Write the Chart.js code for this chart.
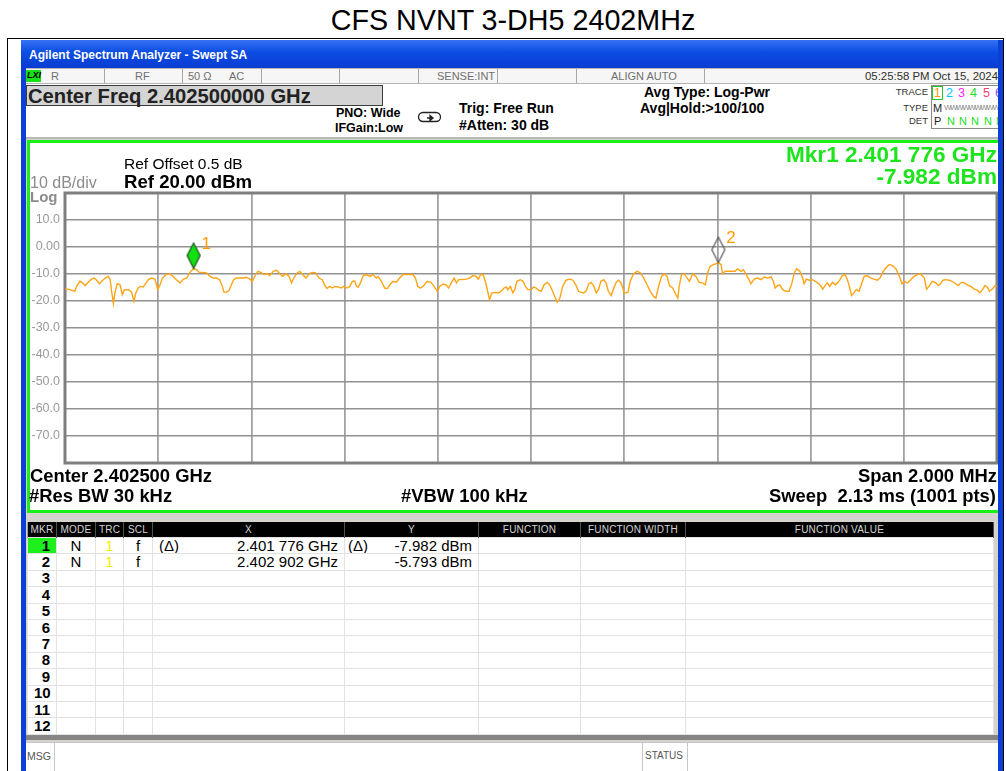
<!DOCTYPE html>
<html>
<head>
<meta charset="utf-8">
<title>CFS NVNT 3-DH5 2402MHz</title>
<script src="https://cdn.jsdelivr.net/npm/chart.js@4.4.1/dist/chart.umd.min.js"></script>
<style>
  html, body { margin: 0; padding: 0; }
  body { width: 1006px; height: 771px; position: relative; overflow: hidden; background: #fff;
         font-family: "Liberation Sans", Arial, sans-serif; color: #000; }
  .t { position: absolute; white-space: nowrap; line-height: 1; }
  .b { font-weight: bold; }
  .box { position: absolute; box-sizing: border-box; }
  .sep { position: absolute; top: 69px; width: 1px; height: 14px; background: #a8a8a8; }
  .st { position: absolute; top: 71px; font-size: 11px; color: #707070; line-height: 1; white-space: nowrap; }
  .hd { font-size: 14px; font-weight: bold; }
  .pn { font-size: 18.4px; font-weight: bold; }
  #mkt { position: absolute; left: 27px; top: 522px; width: 966px; border-collapse: collapse; table-layout: fixed; }
  #mkt th { background: #000; color: #d4d4d4; font-weight: normal; font-size: 10px; height: 15px; padding: 0;
            border-left: 1px solid #a0a0a0; border-right: 1px solid #505050; line-height: 15px; letter-spacing: 0.2px; }
  #mkt tr.r { height: 16.4px; }
  #mkt td { background: #fff; padding: 0 6px; border: 1px solid #e2e2e2; font-size: 15px; line-height: 14px;
            white-space: nowrap; overflow: hidden; }
  #mkt td.n { text-align: right; font-weight: bold; padding-right: 6px; }
  #mkt td.c { text-align: center; padding: 0; }
  #mkt td.v { text-align: right; }
  #mkt td.v span { float: left; }
</style>
</head>
<body>

<div class="t" style="left:0;width:1026px;text-align:center;top:6px;font-size:28.7px;">CFS NVNT 3-DH5 2402MHz</div>
<div class="box" style="left:7px;top:38px;width:997px;height:1px;background:#000"></div>
<div class="box" style="left:7px;top:38px;width:1px;height:733px;background:#000"></div>

<!-- analyzer window frame -->
<div class="box" style="left:21px;top:40px;width:982px;height:731px;background:#0c3fd4"></div>
<div class="box" style="left:21px;top:40px;width:982px;height:28px;background:linear-gradient(#3572f4,#0b4ce2 45%,#0a3dd2)"></div>
<div class="t b" style="left:29px;top:49px;font-size:12px;color:#fff;">Agilent Spectrum Analyzer - Swept SA</div>
<div class="box" style="left:26px;top:68px;width:972px;height:703px;background:#d6d3ce"></div>

<!-- status strip -->
<div class="box" style="left:26px;top:68px;width:972px;height:16px;background:#f6f6f6;border-top:1px solid #b4b4b4;border-bottom:1px solid #b4b4b4"></div>
<div class="sep" style="left:104px"></div><div class="sep" style="left:182px"></div>
<div class="sep" style="left:261px"></div><div class="sep" style="left:339px"></div>
<div class="sep" style="left:418px"></div><div class="sep" style="left:497px"></div>
<div class="sep" style="left:576px"></div><div class="sep" style="left:704px"></div>
<div class="box" style="left:26px;top:70px;width:15px;height:12px;background:#18e018"></div>
<div class="t b" style="left:27px;top:71px;font-size:9px;font-style:italic;">LXI</div>
<div class="st" style="left:51px">R</div>
<div class="st" style="left:135px">RF</div>
<div class="st" style="left:188px">50 Ω</div>
<div class="st" style="left:229px">AC</div>
<div class="st" style="left:437px">SENSE:INT</div>
<div class="st" style="left:611px">ALIGN AUTO</div>
<div class="st" style="left:865px;color:#303030;font-size:11.4px">05:25:58 PM Oct 15, 2024</div>

<!-- settings area -->
<div class="box" style="left:26px;top:84px;width:972px;height:55px;background:#fff;border-bottom:2px solid #b8b8b8"></div>
<div class="box" style="left:26px;top:85px;width:357px;height:21px;background:#d4d4d4;border:1px solid #3c3c3c"></div>
<div class="t b" style="left:28px;top:86px;font-size:20.2px;color:#222">Center Freq 2.402500000 GHz</div>
<div class="t b" style="left:336px;top:107px;font-size:12.5px">PNO: Wide</div>
<div class="t b" style="left:335px;top:122px;font-size:12.5px">IFGain:Low</div>
<svg class="box" style="left:417px;top:110px" width="26" height="16" viewBox="0 0 26 16">
  <rect x="1.5" y="2.5" width="22" height="9" rx="4.5" fill="none" stroke="#222" stroke-width="1.3"/>
  <path d="M10 8 L15 8 M13 5.5 L16 8 L13 10.5 Z" stroke="#222" stroke-width="1.3" fill="#222"/>
</svg>
<div class="t hd" style="left:459px;top:101px">Trig: Free Run</div>
<div class="t hd" style="left:459px;top:118px">#Atten: 30 dB</div>
<div class="t hd" style="left:644px;top:85px">Avg Type: Log-Pwr</div>
<div class="t hd" style="left:640px;top:101px">Avg|Hold:&gt;100/100</div>
<div class="t" style="left:880px;width:48px;text-align:right;top:87px;font-size:9.5px;color:#333">TRACE</div>
<div class="t" style="left:880px;width:48px;text-align:right;top:103px;font-size:9.5px;color:#333">TYPE</div>
<div class="t" style="left:880px;width:48px;text-align:right;top:116px;font-size:9.5px;color:#333">DET</div>
<div class="box" style="left:931px;top:85px;width:72px;height:44px;border:1px solid #8a8a8a;background:#fff"></div>
<div class="box" style="left:932px;top:86px;width:11px;height:14px;border:1px solid #22cc22"></div>
<div class="t" style="left:934px;top:87px;font-size:12.5px;color:#ff9a00">1</div>
<div class="t" style="left:946px;top:87px;font-size:12.5px;color:#00c4ff">2</div>
<div class="t" style="left:958px;top:87px;font-size:12.5px;color:#ff22ff">3</div>
<div class="t" style="left:970px;top:87px;font-size:12.5px;color:#22dd22">4</div>
<div class="t" style="left:983px;top:87px;font-size:12.5px;color:#ff4070">5</div>
<div class="t" style="left:995px;top:87px;font-size:12.5px;color:#9050ff">6</div>
<div class="t" style="left:933px;top:103px;font-size:11px;color:#222">M</div>
<div class="t" style="left:944px;top:104px;font-size:8px;color:#888;letter-spacing:-1.5px">WWWWWWWWWWWWWW</div>
<div class="t" style="left:934px;top:116px;font-size:11px;color:#222">P</div>
<div class="t" style="left:947px;top:116px;font-size:11px;color:#22dd22">N</div>
<div class="t" style="left:959px;top:116px;font-size:11px;color:#22dd22">N</div>
<div class="t" style="left:971px;top:116px;font-size:11px;color:#22dd22">N</div>
<div class="t" style="left:984px;top:116px;font-size:11px;color:#22dd22">N</div>
<div class="t" style="left:996px;top:116px;font-size:11px;color:#22dd22">N</div>

<!-- trace panel -->
<div class="box" style="left:27px;top:140px;width:980px;height:373px;background:#fff;border:3px solid #18f018"></div>
<canvas id="sa" class="box" style="left:30px;top:143px" width="968" height="367"></canvas>
<div class="t" style="left:124px;top:156px;font-size:15.5px">Ref Offset 0.5 dB</div>
<div class="t b" style="left:124px;top:173px;font-size:18.6px">Ref 20.00 dBm</div>
<div class="t" style="left:30px;top:175px;font-size:16px;color:#8c8c8c">10 dB/div</div>
<div class="t b" style="left:30px;top:189px;font-size:15px;color:#8c8c8c">Log</div>
<div id="mkrFreq" class="t b" style="right:9px;top:144px;font-size:22.6px;color:#1ee41e"></div>
<div id="mkrLevel" class="t b" style="right:9px;top:166px;font-size:22.6px;color:#1ee41e"></div>
<div class="t pn" style="left:30px;top:467px">Center 2.402500 GHz</div>
<div class="t pn" style="left:29px;top:487px">#Res BW 30 kHz</div>
<div class="t pn" style="left:401px;top:487px">#VBW 100 kHz</div>
<div class="t pn" style="right:9px;top:467px">Span 2.000 MHz</div>
<div class="t pn" style="left:769px;top:487px">Sweep&nbsp; 2.13 ms (1001 pts)</div>

<!-- marker table -->
<table id="mkt">
  <colgroup>
    <col style="width:29px"><col style="width:39px"><col style="width:28px"><col style="width:29px">
    <col style="width:192px"><col style="width:134px"><col style="width:102px"><col style="width:105px"><col style="width:308px">
  </colgroup>
  <thead><tr><th>MKR</th><th>MODE</th><th>TRC</th><th>SCL</th><th>X</th><th>Y</th><th>FUNCTION</th><th>FUNCTION WIDTH</th><th>FUNCTION VALUE</th></tr></thead>
  <tbody></tbody>
</table>
<div class="box" style="left:26px;top:735px;width:972px;height:5px;background:#858585"></div>
<div class="box" style="left:26px;top:742px;width:972px;height:29px;background:#fff;border-top:1px solid #c8c8c8"></div>
<div class="box" style="left:54px;top:742px;width:1px;height:29px;background:#c8c8c8"></div>
<div class="t" style="left:27px;top:751px;font-size:10.5px;color:#555">MSG</div>
<div class="box" style="left:642px;top:742px;width:1px;height:29px;background:#c8c8c8"></div>
<div class="box" style="left:687px;top:742px;width:1px;height:29px;background:#c8c8c8"></div>
<div class="t" style="left:645px;top:751px;font-size:10px;color:#555">STATUS</div>

<!-- right window edge over clipped content -->
<div class="box" style="left:998px;top:40px;width:5px;height:731px;background:#0c3fd4;z-index:5"></div>
<div class="box" style="left:1003px;top:38px;width:1px;height:733px;background:#000;z-index:5"></div>
<div class="box" style="left:1004px;top:38px;width:2px;height:733px;background:#fff;z-index:5"></div>

<script>
// sweep setup
const centerGHz = 2.4025;
const spanMHz = 2.0;

// amplitude axis, 10 dB/div from the 20 dBm reference
const levelTicks = [20, 10, 0, -10, -20, -30, -40, -50, -60, -70, -80];
const levelTickLabels = ['', '10.0', '0.00', '-10.0', '-20.0', '-30.0', '-40.0', '-50.0', '-60.0', '-70.0', ''];

// trace 1: offset from start frequency (kHz) and level (dBm)
const traceOffsetKHz = [
  0, 7, 14, 21, 25, 32, 38, 43, 50, 57, 63, 68, 74, 79, 86, 93, 97, 100, 104, 107,
  112, 118, 123, 127, 132, 138, 143, 148, 152, 157, 162, 168, 174, 179, 186, 193, 199, 204, 209, 217,
  225, 232, 239, 247, 254, 261, 268, 276, 282, 288, 295, 304, 311, 318, 325, 332, 337, 341, 347, 352,
  357, 362, 368, 375, 382, 389, 397, 402, 407, 414, 420, 427, 434, 439, 447, 454, 461, 467, 474, 481,
  486, 491, 498, 504, 510, 517, 524, 531, 538, 545, 552, 557, 562, 568, 574, 579, 586, 593, 598, 605,
  611, 617, 622, 625, 629, 634, 640, 647, 654, 661, 668, 672, 679, 686, 692, 697, 704, 711, 718, 725,
  736, 747, 752, 757, 763, 770, 777, 785, 792, 799, 804, 811, 818, 823, 829, 835, 840, 845, 852, 861,
  868, 875, 882, 887, 892, 897, 902, 907, 911, 916, 923, 930, 936, 942, 947, 950, 956, 961, 965, 970,
  977, 983, 988, 993, 1000, 1006, 1011, 1016, 1022, 1028, 1035, 1040, 1045, 1050, 1056, 1062, 1068, 1075, 1083, 1090,
  1097, 1102, 1108, 1113, 1118, 1124, 1129, 1135, 1140, 1145, 1150, 1156, 1161, 1166, 1172, 1177, 1183, 1188, 1193, 1197,
  1200, 1208, 1213, 1220, 1228, 1235, 1242, 1249, 1256, 1263, 1268, 1273, 1280, 1286, 1292, 1297, 1304, 1311, 1315, 1318,
  1323, 1329, 1335, 1340, 1347, 1354, 1361, 1368, 1374, 1379, 1384, 1391, 1397, 1402, 1408, 1411, 1417, 1424, 1431, 1438,
  1443, 1451, 1456, 1461, 1467, 1472, 1479, 1486, 1493, 1501, 1508, 1515, 1520, 1524, 1529, 1534, 1540, 1547, 1554, 1560,
  1565, 1570, 1577, 1583, 1586, 1591, 1597, 1604, 1610, 1615, 1620, 1626, 1631, 1636, 1641, 1647, 1653, 1658, 1663, 1668,
  1674, 1679, 1684, 1688, 1693, 1698, 1704, 1710, 1715, 1722, 1729, 1736, 1743, 1749, 1754, 1761, 1769, 1776, 1783, 1790,
  1796, 1801, 1808, 1815, 1822, 1829, 1836, 1844, 1849, 1854, 1861, 1869, 1874, 1879, 1884, 1891, 1897, 1904, 1911, 1917,
  1922, 1929, 1936, 1944, 1951, 1958, 1963, 1969, 1974, 1979, 1984, 1990, 1996, 2000
];
const traceLevelDBm = [
  -15.6, -15.6, -16.0, -16.4, -14.6, -12.7, -13.3, -14.3, -13.1, -11.9, -11.5, -12.3, -13.6, -12.7, -11.5, -10.9, -12.1, -16.4, -21.0, -17.0,
  -13.6, -14.0, -17.7, -16.0, -15.8, -16.0, -16.8, -20.1, -17.0, -15.2, -14.6, -14.8, -13.3, -12.1, -11.5, -11.9, -15.8, -14.0, -11.5, -10.2,
  -9.9, -10.9, -12.1, -13.3, -11.9, -11.5, -9.4, -7.98, -8.4, -9.4, -9.4, -9.6, -10.9, -11.5, -11.5, -12.1, -14.3, -16.7, -16.7, -16.0,
  -14.0, -12.1, -11.5, -11.5, -11.5, -11.2, -11.9, -12.7, -10.9, -9.0, -9.4, -10.2, -9.9, -10.6, -9.0, -8.6, -9.9, -10.9, -9.9, -10.9,
  -13.3, -11.5, -9.6, -9.0, -10.2, -11.5, -9.9, -9.4, -9.6, -11.5, -12.1, -14.0, -15.4, -14.6, -15.2, -14.6, -14.8, -15.2, -14.6, -15.2,
  -14.6, -12.7, -12.7, -14.3, -14.9, -13.3, -10.6, -10.2, -10.9, -10.2, -11.5, -10.9, -12.7, -15.2, -15.4, -14.0, -12.7, -13.0, -11.5, -10.2,
  -10.2, -10.2, -11.5, -14.6, -15.2, -14.3, -12.7, -13.1, -14.6, -16.4, -14.6, -13.7, -14.0, -15.2, -13.3, -11.5, -13.3, -12.1, -12.1, -11.9,
  -11.5, -10.6, -10.9, -11.9, -10.2, -10.2, -12.7, -16.4, -19.5, -17.0, -16.8, -17.0, -16.4, -15.2, -14.8, -15.8, -14.6, -17.0, -15.8, -12.7,
  -12.1, -12.7, -14.6, -15.8, -15.8, -14.8, -15.2, -16.0, -16.4, -14.0, -13.1, -14.0, -15.8, -18.0, -20.5, -18.9, -14.6, -12.3, -11.9, -12.3,
  -14.3, -16.4, -16.8, -17.0, -16.4, -13.6, -13.1, -14.6, -17.0, -15.6, -12.7, -12.1, -13.3, -16.4, -18.0, -15.6, -13.0, -12.3, -13.3, -15.2,
  -17.0, -16.8, -12.7, -9.9, -9.0, -9.6, -11.5, -14.0, -16.4, -18.3, -18.9, -15.2, -10.9, -9.9, -10.9, -14.3, -15.2, -17.7, -18.9, -14.6,
  -10.2, -9.9, -11.5, -12.7, -9.9, -10.9, -13.1, -13.3, -14.0, -9.6, -7.2, -6.5, -6.2, -5.79, -6.5, -9.9, -9.0, -9.0, -9.0, -9.0,
  -8.1, -9.0, -8.4, -9.9, -11.9, -13.6, -11.9, -11.5, -12.1, -11.1, -11.5, -11.1, -12.7, -15.2, -14.3, -14.0, -15.8, -16.4, -16.4, -13.3,
  -9.6, -8.1, -9.0, -11.5, -13.6, -11.9, -12.3, -12.1, -12.7, -13.3, -14.0, -15.6, -14.3, -13.3, -14.6, -13.1, -14.0, -13.3, -12.1, -10.6,
  -10.2, -12.1, -15.2, -18.0, -17.0, -15.8, -16.4, -13.3, -10.9, -10.6, -11.5, -11.9, -12.3, -11.5, -9.6, -7.8, -6.5, -6.9, -8.1, -10.6,
  -13.6, -12.7, -13.3, -12.1, -10.9, -10.2, -9.9, -11.5, -15.6, -14.6, -12.7, -13.3, -14.3, -13.6, -12.3, -12.1, -12.3, -12.7, -13.6, -14.3,
  -13.3, -13.1, -14.0, -14.6, -15.6, -16.0, -17.0, -15.8, -14.3, -14.8, -16.4, -15.6, -14.3, -14.6
];

// markers
const markerNames = ['1', '2'];
const markerModes = ['N', 'N'];
const markerTraces = ['1', '1'];
const markerScales = ['f', 'f'];
const markerRefs = ['(Δ)', ''];
const markerFreqGHz = [2.401776, 2.402902];
const markerLevelDBm = [-7.982, -5.793];

const startGHz = centerGHz - spanMHz / 2000;
const fmtGHz = v => { const s = v.toFixed(6); return s.slice(0, 5) + ' ' + s.slice(5) + ' GHz'; };
const fmtDBm = v => v.toFixed(3) + ' dBm';

document.getElementById('mkrFreq').textContent = 'Mkr1 ' + fmtGHz(markerFreqGHz[0]);
document.getElementById('mkrLevel').textContent = fmtDBm(markerLevelDBm[0]);

// marker table, 12 rows
const tbody = document.querySelector('#mkt tbody');
for (let i = 0; i < 12; i++) {
  const tr = document.createElement('tr');
  tr.className = 'r';
  const m = i < markerNames.length;
  tr.innerHTML =
    '<td class="n"' + (i === 0 ? ' style="background:#1ef01e"' : '') + '>' + (i + 1) + '</td>' +
    '<td class="c">' + (m ? markerModes[i] : '') + '</td>' +
    '<td class="c" style="color:#f2f200">' + (m ? markerTraces[i] : '') + '</td>' +
    '<td class="c">' + (m ? markerScales[i] : '') + '</td>' +
    '<td class="v">' + (m ? '<span>' + markerRefs[i] + '</span>' + fmtGHz(markerFreqGHz[i]) : '') + '</td>' +
    '<td class="v" style="padding-left:3px">' + (m ? '<span>' + markerRefs[i] + '</span>' + fmtDBm(markerLevelDBm[i]) : '') + '</td>' +
    '<td></td><td></td><td></td>';
  tbody.appendChild(tr);
}

// diamond marker glyphs; tip sits on the trace point (image is centred on it)
function diamond(fill, stroke) {
  const c = document.createElement('canvas');
  c.width = 16; c.height = 54;
  const g = c.getContext('2d');
  g.beginPath();
  g.moveTo(8, 1.5); g.lineTo(14.5, 14); g.lineTo(8, 27); g.lineTo(1.5, 14); g.closePath();
  if (fill) { g.fillStyle = fill; g.fill(); }
  g.lineWidth = 1.2; g.strokeStyle = stroke; g.stroke();
  return c;
}
const markerGlyphs = [diamond('#11e011', '#1d4d1d'), diamond(null, '#555')];

const plotFrame = {
  id: 'plotFrame',
  beforeDatasetsDraw(chart) {
    const a = chart.chartArea, ctx = chart.ctx;
    ctx.save();
    ctx.strokeStyle = '#7e7e7e';
    ctx.lineWidth = 3;
    ctx.strokeRect(a.left, a.top, a.right - a.left, a.bottom - a.top);
    ctx.restore();
  }
};

const markerLabels = {
  id: 'markerLabels',
  afterDatasetsDraw(chart) {
    const ctx = chart.ctx;
    const pts = chart.getDatasetMeta(1).data;
    ctx.save();
    ctx.font = '17px "Liberation Sans", Arial, sans-serif';
    ctx.fillStyle = '#ff9a00';
    ctx.textBaseline = 'middle';
    pts.forEach((p, i) => ctx.fillText(markerNames[i], p.x + 8, p.y - 24));
    ctx.restore();
  }
};

Chart.defaults.font.family = '"Liberation Sans", Arial, sans-serif';

new Chart(document.getElementById('sa'), {
  type: 'scatter',
  data: {
    datasets: [{
      label: 'Trace 1',
      data: traceOffsetKHz.map((f, i) => ({ x: f, y: traceLevelDBm[i] })),
      showLine: true,
      borderColor: '#ffa414',
      borderWidth: 1.4,
      pointRadius: 0,
      tension: 0,
      order: 2
    }, {
      label: 'Markers',
      data: markerFreqGHz.map((f, i) => ({ x: (f - startGHz) * 1e6, y: markerLevelDBm[i] })),
      showLine: false,
      pointRadius: 5,
      pointStyle: markerGlyphs,
      order: 1
    }]
  },
  options: {
    responsive: false,
    animation: false,
    devicePixelRatio: 1,
    layout: { autoPadding: false, padding: { left: 0, top: 50, right: 1, bottom: 47 } },
    plugins: { legend: { display: false }, tooltip: { enabled: false } },
    scales: {
      x: {
        type: 'linear',
        min: 0,
        max: spanMHz * 1000,
        ticks: { stepSize: 200, display: false },
        grid: { color: '#a2a2a2', lineWidth: 1.8, drawTicks: false },
        border: { display: false },
        afterFit: s => { s.height = 0; }
      },
      y: {
        min: -80,
        max: 20,
        afterBuildTicks: s => { s.ticks = levelTicks.map(v => ({ value: v })); },
        ticks: {
          padding: 5,
          color: '#9a9a9a',
          font: { size: 12.5 },
          callback: (v, i) => levelTickLabels[i]
        },
        grid: { color: '#929292', lineWidth: 1.6, drawTicks: false },
        border: { display: false },
        afterFit: s => { s.width = 35; }
      }
    }
  },
  plugins: [plotFrame, markerLabels]
});
</script>
</body>
</html>
